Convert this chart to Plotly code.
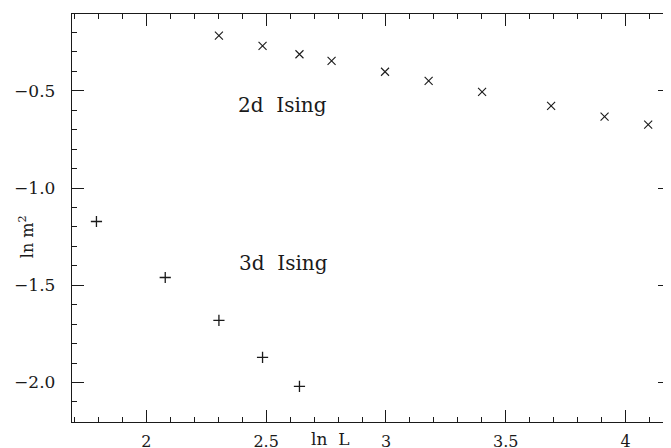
import plotly.graph_objects as go

# 2d Ising data (x marks)
lnL_2d = [2.303, 2.485, 2.639, 2.773, 2.996, 3.178, 3.401, 3.689, 3.912, 4.094]
lnm2_2d = [-0.216, -0.269, -0.312, -0.346, -0.402, -0.449, -0.506, -0.577, -0.633, -0.674]

# 3d Ising data (plus marks)
lnL_3d = [1.792, 2.079, 2.303, 2.485, 2.639]
lnm2_3d = [-1.172, -1.460, -1.680, -1.871, -2.020]

x_tickvals = [2, 2.5, 3, 3.5, 4]
x_ticktext = ["2", "2.5", "3", "3.5", "4"]
y_tickvals = [-2.0, -1.5, -1.0, -0.5]
y_ticktext = ["\u22122.0", "\u22121.5", "\u22121.0", "\u22120.5"]

ink = "#1a1a1a"
font_family = "DejaVu Serif"

fig = go.Figure()
fig.add_trace(go.Scatter(
    x=lnL_2d, y=lnm2_2d, mode="markers",
    marker=dict(symbol="x-thin", size=8, line=dict(width=1.1, color=ink), color=ink),
    showlegend=False, hoverinfo="skip"))
fig.add_trace(go.Scatter(
    x=lnL_3d, y=lnm2_3d, mode="markers",
    marker=dict(symbol="cross-thin", size=8, line=dict(width=1.3, color=ink), color=ink),
    showlegend=False, hoverinfo="skip"))

axis_common = dict(
    showgrid=False, zeroline=False, showline=True, linecolor=ink, linewidth=1.4,
    mirror="ticks", ticks="inside", ticklen=12, tickwidth=1.3, tickcolor=ink,
    automargin=False,
)

fig.update_xaxes(range=[1.69, 4.185], tickmode="array", tickvals=x_tickvals,
                 ticktext=x_ticktext, ticklabelstandoff=5,
                 tickfont=dict(family=font_family, size=16, color=ink),
                 minor=dict(dtick=0.1, tick0=0, ticks="inside", ticklen=5,
                            tickwidth=1.1, tickcolor=ink, showgrid=False),
                 **axis_common)
fig.update_yaxes(range=[-2.203, -0.105], tickmode="array", tickvals=y_tickvals,
                 ticktext=y_ticktext, ticklabelstandoff=12,
                 tickfont=dict(family=font_family, size=17, color=ink),
                 minor=dict(dtick=0.1, tick0=0, ticks="inside", ticklen=5,
                            tickwidth=1.1, tickcolor=ink, showgrid=False),
                 **axis_common)

annot_font = dict(family=font_family, size=20, color=ink)
fig.add_annotation(x=2.568, y=-0.574, xref="x", yref="y",
                   text="2d\u00a0\u00a0Ising", showarrow=False, font=annot_font)
fig.add_annotation(x=2.574, y=-1.384, xref="x", yref="y",
                   text="3d\u00a0\u00a0Ising", showarrow=False, font=annot_font)
fig.add_annotation(x=2.768, y=0, xref="x", yref="paper", yanchor="top", yshift=-5,
                   text="ln\u00a0\u00a0L", showarrow=False,
                   font=dict(family=font_family, size=17, color=ink))
fig.add_annotation(x=0, xref="paper", xshift=-58, y=-1.25, yref="y",
                   text="ln\u00a0m<sup>2</sup>", textangle=-90, showarrow=False,
                   font=dict(family=font_family, size=16, color=ink))

# The page body has an 8px default margin; the figure is sized so that it
# fills the 671x448 window exactly from that offset.
fig.update_layout(
    width=663, height=440,
    margin=dict(l=64, r=1, t=6, b=26),
    paper_bgcolor="white", plot_bgcolor="white",
)

fig.write_html("out.html")
